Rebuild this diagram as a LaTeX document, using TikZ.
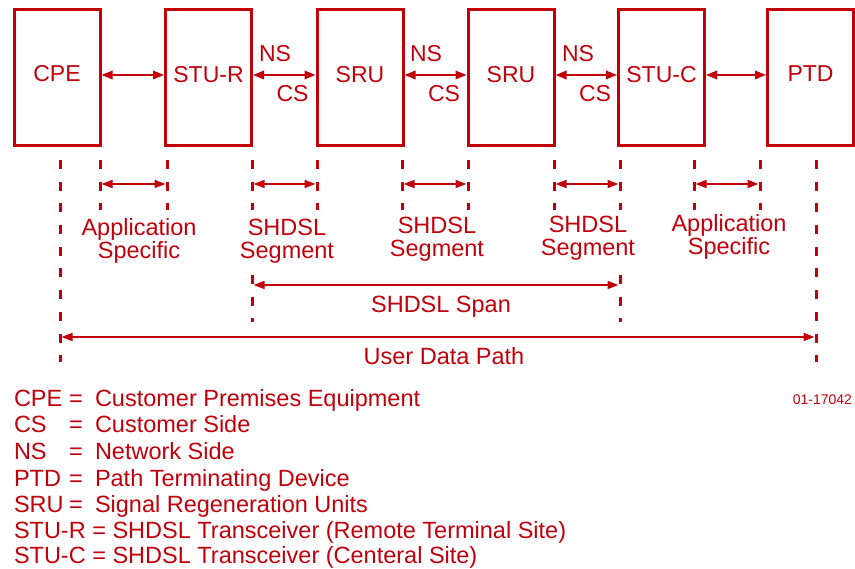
\documentclass[tikz,border=0pt]{standalone}
\usepackage{fontspec}
\setmainfont{Liberation Sans}
\usetikzlibrary{arrows.meta}
\definecolor{dred}{RGB}{192,0,10}
\tikzset{
  every node/.style={text=dred, inner sep=0pt, outer sep=0pt},
  unitbox/.style={draw=dred, line width=3pt, minimum width=86pt, minimum height=136pt, outer sep=1.5pt},
  unitlbl/.style={anchor=base, font=\fontsize{23}{23}\selectfont},
  sidelbl/.style={anchor=base, font=\fontsize{23}{23}\selectfont},
  measlbl/.style={anchor=base, font=\fontsize{23.5}{23.5}\selectfont},
  leglbl/.style={anchor=base west, font=\fontsize{23.5}{23.5}\selectfont},
  legeq/.style={anchor=base, font=\fontsize{23.5}{23.5}\selectfont},
  conn/.style={draw=dred, line width=1.8pt, {Triangle[length=11pt,width=8.5pt]}-{Triangle[length=11pt,width=8.5pt]}},
  meas/.style={draw=dred, line width=1.6pt, {Triangle[length=11pt,width=8pt]}-{Triangle[length=11pt,width=8pt]}, shorten <=1.5pt, shorten >=1.5pt},
  guide/.style={draw=dred, line width=3pt, dash pattern=on 9pt off 12.7pt}
}
\begin{document}
\begin{tikzpicture}[x=1pt,y=-1pt]
\useasboundingbox (0,0) rectangle (855,569);

% units
\node[unitbox] (cpe)  at (57,78)    {};
\node[unitbox] (stur) at (208.5,78) {};
\node[unitbox] (sru1) at (360,78)   {};
\node[unitbox] (sru2) at (511,78)   {};
\node[unitbox] (stuc) at (661.5,78) {};
\node[unitbox] (ptd)  at (810.5,78) {};

\node[unitlbl] (cpeT)  at (57,82)    {CPE};
\node[unitlbl] (sturT) at (208.5,83) {STU-R};
\node[unitlbl] (sru1T) at (360,83)   {SRU};
\node[unitlbl] (sru2T) at (511,83)   {SRU};
\node[unitlbl] (stucT) at (661.5,83) {STU-C};
\node[unitlbl] (ptdT)  at (810.5,82) {PTD};

% links
\draw[conn] ([yshift=3pt]cpe.east)  -- ([yshift=3pt]stur.west);
\draw[conn] ([yshift=3pt]stur.east) -- ([yshift=3pt]sru1.west);
\draw[conn] ([yshift=3pt]sru1.east) -- ([yshift=3pt]sru2.west);
\draw[conn] ([yshift=3pt]sru2.east) -- ([yshift=3pt]stuc.west);
\draw[conn] ([yshift=3pt]stuc.east) -- ([yshift=3pt]ptd.west);

\node[sidelbl] (ns1) at (275,62)   {NS};
\node[sidelbl] (cs1) at (292.5,102) {CS};
\node[sidelbl] (ns2) at (426,62)   {NS};
\node[sidelbl] (cs2) at (444,102)  {CS};
\node[sidelbl] (ns3) at (578,62)   {NS};
\node[sidelbl] (cs3) at (595,102)  {CS};

% guide lines
\coordinate (v1t) at (60,160);  \coordinate (v1b) at (60,362);
\coordinate (v2t) at (100,160); \coordinate (v2b) at (100,210);
\coordinate (v3t) at (167,160); \coordinate (v3b) at (167,210);
\coordinate (v4t) at (252,160); \coordinate (v4b) at (252,210);
\coordinate (v5t) at (317,160); \coordinate (v5b) at (317,210);
\coordinate (v6t) at (402,160); \coordinate (v6b) at (402,210);
\coordinate (v7t) at (468,160); \coordinate (v7b) at (468,210);
\coordinate (v8t) at (554,160); \coordinate (v8b) at (554,210);
\coordinate (v9t) at (620,160); \coordinate (v9b) at (620,210);
\coordinate (v10t) at (694,160); \coordinate (v10b) at (694,210);
\coordinate (v11t) at (760,160); \coordinate (v11b) at (760,210);
\coordinate (v12t) at (816,160); \coordinate (v12b) at (816,362);
\foreach \i in {1,...,12} { \draw[guide] (v\i t) -- (v\i b); }
\coordinate (w4t) at (252,275); \coordinate (w4b) at (252,322);
\coordinate (w9t) at (620,275); \coordinate (w9b) at (620,322);
\draw[guide] (w4t) -- (w4b);
\draw[guide] (w9t) -- (w9b);

% measurement arrows
\coordinate (m1l) at (100,184); \coordinate (m1r) at (167,184);
\coordinate (m2l) at (252,184); \coordinate (m2r) at (317,184);
\coordinate (m3l) at (402,184); \coordinate (m3r) at (468,184);
\coordinate (m4l) at (554,184); \coordinate (m4r) at (620,184);
\coordinate (m5l) at (694,184); \coordinate (m5r) at (760,184);
\coordinate (spl) at (252,285); \coordinate (spr) at (620,285);
\coordinate (udl) at (60,337);  \coordinate (udr) at (816,337);
\draw[meas] (m1l) -- (m1r);
\draw[meas] (m2l) -- (m2r);
\draw[meas] (m3l) -- (m3r);
\draw[meas] (m4l) -- (m4r);
\draw[meas] (m5l) -- (m5r);
\draw[meas] (spl) -- (spr);
\draw[meas] (udl) -- (udr);

\node[measlbl] (app1a) at (139,236) {Application};
\node[measlbl] (app1b) at (139,259) {Specific};
\node[measlbl] (seg1a) at (287,236) {SHDSL};
\node[measlbl] (seg1b) at (287,259) {Segment};
\node[measlbl] (seg2a) at (437,234) {SHDSL};
\node[measlbl] (seg2b) at (437,257) {Segment};
\node[measlbl] (seg3a) at (588,233) {SHDSL};
\node[measlbl] (seg3b) at (588,256) {Segment};
\node[measlbl] (app2a) at (729,232) {Application};
\node[measlbl] (app2b) at (729,255) {Specific};
\node[measlbl] (span)  at (441,313) {SHDSL Span};
\node[measlbl] (udp)   at (444,365) {User Data Path};

% legend
\node[leglbl] (k1) at (14,407)   {CPE};
\node[legeq]  (e1) at (76,407)   {=};
\node[leglbl] (d1) at (95,407)   {Customer Premises Equipment};
\node[leglbl] (k2) at (14,433) {CS};
\node[legeq]  (e2) at (76,433) {=};
\node[leglbl] (d2) at (95,433) {Customer Side};
\node[leglbl] (k3) at (14,459.5) {NS};
\node[legeq]  (e3) at (76,459.5) {=};
\node[leglbl] (d3) at (95,459.5) {Network Side};
\node[leglbl] (k4) at (14,486)   {PTD};
\node[legeq]  (e4) at (76,486)   {=};
\node[leglbl] (d4) at (95,486)   {Path Terminating Device};
\node[leglbl] (k5) at (14,512) {SRU};
\node[legeq]  (e5) at (76,512) {=};
\node[leglbl] (d5) at (95,512) {Signal Regeneration Units};
\node[leglbl] (k6) at (14,538) {STU-R = SHDSL Transceiver (Remote Terminal Site)};
\node[leglbl] (k7) at (14,563.5)   {STU-C = SHDSL Transceiver (Centeral Site)};

\node[anchor=base east, font=\fontsize{14}{14}\selectfont] (fig) at (852,405) {01-17042};
\end{tikzpicture}
\end{document}
